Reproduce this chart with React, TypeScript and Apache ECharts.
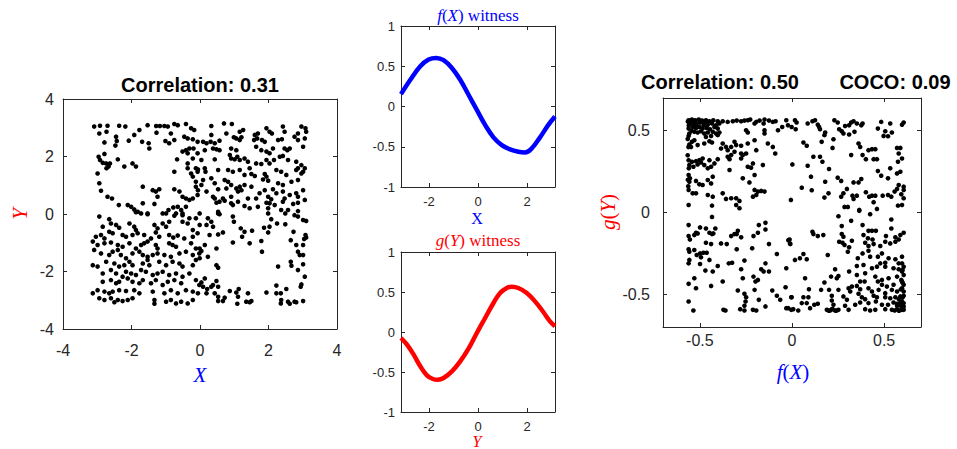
import React, { useEffect, useRef } from "react";
import * as echarts from "echarts";

// ---------- data ----------
const leftTicks = [-4, -2, 0, 2, 4];
const witnessYTicks = [-1, -0.5, 0, 0.5, 1];
const witnessXTicks = [-2, 0, 2];
const rightTicks = [-0.5, 0, 0.5];

const leftTitle = "Correlation: 0.31";
const rightTitle = "Correlation: 0.50";
const cocoTitle = "COCO: 0.09";

// f(X) witness curve (x, f)
const fWitness: [number, number][] = [
  [-3.1416, 0.154], [-2.76, 0.333], [-2.354, 0.5], [-2.015, 0.583], [-1.703, 0.604],
  [-1.404, 0.575], [-1.065, 0.479], [-0.726, 0.333], [-0.387, 0.146], [-0.048, -0.042],
  [0.291, -0.229], [0.631, -0.383], [0.97, -0.479], [1.309, -0.533], [1.648, -0.5625],
  [1.92, -0.571], [2.191, -0.521], [2.531, -0.383], [2.87, -0.229], [3.1416, -0.125],
];

// g(Y) witness curve (y, g)
const gWitness: [number, number][] = [
  [-3.1416, -0.075], [-2.897, -0.158], [-2.626, -0.283], [-2.354, -0.429], [-2.083, -0.542],
  [-1.839, -0.5875], [-1.649, -0.596], [-1.404, -0.575], [-1.065, -0.492], [-0.726, -0.367],
  [-0.387, -0.208], [-0.048, -0.0125], [0.291, 0.175], [0.631, 0.3625], [0.902, 0.4875],
  [1.174, 0.55], [1.377, 0.567], [1.648, 0.55], [1.988, 0.4875], [2.327, 0.383],
  [2.666, 0.25], [2.938, 0.133], [3.1416, 0.071],
];

// left scatter (X, Y)
const leftPoints: [number, number][] = [
  [-3.09,3.04],[-2.92,3.07],[-2.70,3.07],[-2.36,3.07],[-2.18,3.04],[-1.53,3.09],[-1.28,3.06],[-1.17,3.06],[-1.04,3.06],[-0.94,3.04],
  [-0.75,3.13],[-0.65,3.09],[-0.41,3.13],[-0.26,2.98],[-0.17,2.92],[-2.94,2.80],[-2.73,2.86],[-2.45,2.69],[-1.77,2.92],[-1.27,2.83],
  [-0.85,2.80],[-0.46,2.69],[-2.79,2.49],[-2.43,2.54],[-2.08,2.55],[-1.92,2.75],[-1.69,2.51],[-1.50,2.46],[-1.01,2.54],[-0.90,2.46],
  [-0.75,2.57],[-0.36,2.63],[-0.21,2.60],[-0.07,2.51],[-2.47,2.38],[-1.48,2.28],[-0.41,2.22],[-0.31,2.28],[-0.19,2.28],[-0.51,2.17],
  [-2.96,1.99],[-2.79,2.09],[-2.92,1.88],[-2.84,1.78],[-2.74,1.76],[-2.63,1.76],[-2.67,1.65],[-2.73,1.59],[-2.40,1.90],[-1.97,1.76],
  [-1.87,1.65],[-2.21,1.65],[-0.67,1.90],[-0.36,2.11],[-0.21,1.93],[-0.07,2.11],[-0.36,1.76],[-0.36,1.59],[-0.12,1.59],[-0.75,1.47],
  [-0.26,1.41],[-0.07,1.47],[-2.99,1.41],[-2.94,1.07],[-0.21,1.30],[-0.12,1.12],[-2.89,0.81],[-1.67,0.95],[-1.38,0.83],[-1.29,0.78],
  [-1.19,0.86],[-0.75,0.86],[-0.60,0.78],[-0.12,0.95],[-2.70,0.60],[-2.57,0.54],[-1.24,0.60],[-0.51,0.60],[-0.41,0.54],[-0.21,0.54],
  [-0.07,0.66],[-0.31,0.49],[-2.37,0.31],[-2.11,0.31],[-2.01,0.25],[-1.92,0.16],[-1.82,0.08],[-1.67,0.37],[-1.53,0.02],[-1.33,0.35],
  [-1.09,0.02],[-0.92,0.14],[-0.78,0.23],[-0.65,0.25],[-0.55,0.14],[-0.41,0.25],[-0.70,0.02],[-0.51,0.02],
  [0.33,3.06],[0.70,3.15],[0.93,3.13],[0.33,2.75],[0.77,2.80],[0.99,2.67],[1.16,2.86],[1.26,2.92],[1.60,2.75],[1.69,2.80],
  [1.94,2.98],[2.03,2.86],[2.10,2.80],[2.42,3.04],[2.47,2.86],[2.96,3.04],[3.08,2.98],[3.10,2.86],[2.86,2.80],[2.76,2.69],
  [0.09,2.51],[0.19,2.46],[0.31,2.51],[0.43,2.46],[0.57,2.55],[1.06,2.63],[1.16,2.57],[1.21,2.67],[1.58,2.57],[1.67,2.63],
  [1.81,2.57],[1.89,2.51],[2.28,2.57],[2.39,2.60],[2.86,2.57],[3.06,2.63],[0.14,2.22],[0.38,2.28],[0.48,2.25],[0.57,2.22],
  [0.91,2.28],[1.06,2.22],[1.64,2.34],[1.79,2.22],[1.94,2.17],[2.03,2.11],[2.13,2.28],[2.47,2.28],[2.55,2.22],[2.62,2.28],
  [3.01,2.34],[0.04,1.88],[0.43,1.90],[0.87,2.05],[0.91,1.93],[1.01,1.90],[1.09,1.99],[1.16,1.88],[1.30,1.93],[1.40,1.82],
  [1.64,1.76],[1.79,1.74],[1.94,1.88],[2.03,1.76],[2.16,1.88],[2.33,1.99],[2.42,2.02],[2.57,1.88],[2.81,1.82],[2.96,1.70],
  [-0.06,1.55],[0.14,1.59],[0.16,1.47],[0.53,1.53],[0.82,1.53],[0.96,1.47],[1.16,1.53],[1.45,1.59],[1.30,1.36],[1.50,1.39],
  [1.60,1.32],[1.89,1.39],[1.94,1.30],[2.23,1.53],[2.37,1.47],[2.52,1.36],[2.81,1.53],[2.86,1.59],[3.01,1.47],[3.06,1.59],
  [2.96,1.41],[0.09,1.18],[0.33,1.24],[0.43,1.07],[0.72,1.18],[0.82,1.12],[0.91,1.01],[1.16,0.95],[1.30,1.01],[1.50,0.95],
  [1.84,1.20],[1.99,1.16],[2.28,1.07],[2.42,1.01],[2.67,1.12],[2.86,1.18],[0.04,1.01],[-0.06,0.83],[0.19,0.78],[0.53,0.86],
  [0.77,0.89],[1.06,0.89],[1.11,0.78],[1.21,0.83],[1.74,0.72],[1.89,0.83],[2.13,0.86],[2.23,0.72],[2.42,0.78],[2.62,0.66],
  [2.81,0.72],[3.01,0.83],[0.38,0.60],[0.43,0.54],[0.67,0.54],[0.91,0.60],[1.40,0.54],[1.64,0.54],[1.99,0.60],[2.08,0.51],
  [2.47,0.54],[2.86,0.60],[0.48,0.39],[0.57,0.43],[0.72,0.46],[0.91,0.37],[0.96,0.31],[1.11,0.43],[1.94,0.39],[2.03,0.37],
  [2.18,0.31],[2.42,0.43],[2.72,0.35],[2.86,0.39],[3.06,0.49],[0.53,0.08],[1.30,0.28],[1.45,0.20],[1.69,0.25],[1.99,0.20],
  [2.37,0.14],[2.57,0.14],[2.86,0.10],
  [-2.94,-0.09],[-2.65,-0.18],[-1.87,0.06],[-1.72,0.02],[-1.53,-0.01],[-0.99,0.02],[-0.75,-0.06],[-0.51,-0.04],[-0.31,-0.15],[-0.12,-0.15],
  [-2.84,-0.44],[-2.60,-0.33],[-2.45,-0.38],[-2.36,-0.48],[-2.06,-0.33],[-1.92,-0.44],[-1.87,-0.56],[-1.33,-0.38],[-1.24,-0.50],[-1.09,-0.33],
  [-0.99,-0.44],[-0.90,-0.27],[-0.51,-0.27],[-0.36,-0.33],[-0.21,-0.56],[-3.04,-0.79],[-2.89,-0.73],[-2.79,-0.85],[-2.65,-0.62],[-2.55,-0.67],
  [-2.26,-0.73],[-2.16,-0.79],[-1.97,-0.73],[-1.82,-0.67],[-1.63,-0.73],[-1.43,-0.85],[-1.29,-0.64],[-1.19,-0.79],[-0.90,-0.73],[-0.78,-0.82],
  [-0.65,-0.75],[-0.46,-0.85],[-0.21,-0.79],[-0.07,-0.67],[-3.13,-0.96],[-2.99,-1.08],[-2.79,-1.02],[-2.60,-0.99],[-2.40,-1.08],[-2.26,-1.14],
  [-2.06,-1.02],[-1.87,-1.20],[-1.72,-1.08],[-1.63,-1.02],[-1.53,-0.96],[-1.29,-1.08],[-1.24,-1.20],[-0.90,-1.02],[-0.80,-1.08],[-0.70,-1.14],
  [-0.26,-1.02],[-0.12,-1.20],[-3.09,-1.25],[-2.89,-1.37],[-2.65,-1.43],[-2.55,-1.31],[-2.40,-1.25],[-2.31,-1.43],[-2.16,-1.54],[-1.97,-1.37],
  [-1.77,-1.31],[-1.67,-1.43],[-1.53,-1.49],[-1.38,-1.43],[-1.24,-1.37],[-1.04,-1.43],[-0.85,-1.49],[-0.60,-1.37],[-0.41,-1.31],[-0.21,-1.43],
  [-0.02,-1.37],[-3.13,-1.78],[-2.99,-1.83],[-2.74,-1.66],[-2.50,-1.72],[-2.36,-1.83],[-2.21,-1.78],[-2.06,-1.66],[-1.97,-1.78],[-1.67,-1.72],
  [-1.53,-1.60],[-1.48,-1.78],[-1.19,-1.66],[-0.99,-1.78],[-0.80,-1.66],[-0.60,-1.72],[-0.51,-1.83],[-0.21,-1.78],[-0.12,-1.60],[-2.84,-2.07],
  [-2.60,-1.95],[-2.45,-2.07],[-2.26,-2.18],[-2.16,-2.01],[-2.01,-2.07],[-1.87,-2.12],[-1.72,-1.95],[-1.58,-2.01],[-1.38,-2.12],[-1.24,-2.07],
  [-1.09,-2.01],[-0.90,-2.12],[-0.70,-2.07],[-0.51,-2.18],[-0.31,-2.07],[-2.84,-2.36],[-2.60,-2.30],[-2.45,-2.41],[-2.36,-2.36],[-2.11,-2.24],
  [-1.97,-2.36],[-1.77,-2.41],[-1.67,-2.30],[-1.43,-2.41],[-1.29,-2.30],[-1.09,-2.47],[-0.94,-2.36],[-0.75,-2.30],[-0.55,-2.41],[-0.12,-2.30],
  [-0.02,-2.47],[-3.13,-2.76],[-2.99,-2.65],[-2.79,-2.70],[-2.65,-2.76],[-2.55,-2.70],[-2.36,-2.65],[-2.16,-2.68],[-1.92,-2.65],[-1.77,-2.76],
  [-1.38,-2.70],[-1.04,-2.76],[-0.85,-2.65],[-0.65,-2.76],[-0.41,-2.65],[-0.21,-2.70],[-2.94,-2.93],[-2.79,-2.99],[-2.60,-2.93],[-2.50,-3.07],
  [-2.40,-2.99],[-2.26,-3.03],[-2.11,-2.99],[-1.97,-2.93],[-1.33,-2.99],[-1.33,-3.12],[-0.99,-3.05],[-0.85,-2.99],[-0.70,-3.11],[-0.55,-3.05],
  [-0.36,-3.11],[-0.21,-2.99],
  [-0.01,0.02],[0.23,-0.15],[0.33,-0.27],[0.38,-0.44],[0.53,0.02],[0.57,-0.01],[-0.01,-0.38],[0.19,-0.38],[0.28,-0.73],[0.53,-0.71],
  [0.67,-0.64],[0.96,-0.09],[0.99,-0.27],[1.19,-0.50],[1.23,-0.79],[1.30,-0.62],[1.52,-0.58],[1.45,-1.02],[0.96,-0.99],[1.79,-0.94],
  [1.81,-1.31],[1.87,-0.48],[2.03,-0.44],[1.99,-0.64],[2.08,-0.18],[1.99,0.02],[2.25,-0.33],[2.49,-0.36],[2.49,0.02],[2.76,-0.04],
  [2.86,-0.09],[3.01,-0.21],[3.10,-0.24],[2.65,-0.91],[2.73,-0.62],[2.81,-1.08],[3.04,-0.87],[3.08,-0.73],[3.10,-0.82],[3.01,-1.08],
  [2.86,-1.31],[2.91,-1.43],[3.01,-1.43],[2.28,-1.83],[2.65,-1.66],[2.67,-1.80],[2.86,-1.95],[3.01,-1.75],[3.06,-2.18],[-0.01,-1.20],
  [0.14,-1.08],[0.04,-1.29],[0.23,-1.49],[0.48,-1.20],[-0.01,-1.54],[0.48,-1.78],[0.53,-1.87],[0.14,-2.24],[0.04,-2.38],[0.09,-2.53],
  [0.21,-2.61],[0.33,-2.53],[0.38,-2.47],[0.48,-2.33],[0.53,-2.53],[-0.06,-2.76],[0.19,-2.76],[0.43,-2.76],[0.53,-2.88],[0.72,-2.91],
  [0.67,-3.03],[0.53,-3.03],[0.87,-2.68],[1.06,-2.73],[1.13,-2.61],[1.11,-2.88],[1.40,-2.76],[1.35,-3.05],[1.45,-3.07],[1.50,-3.03],
  [1.09,-3.12],[1.94,-2.73],[2.23,-2.49],[2.23,-2.76],[2.36,-2.76],[2.52,-2.61],[2.96,-2.45],[2.37,-2.99],[2.36,-3.11],[2.57,-3.05],
  [2.62,-3.12],[2.76,-3.05],[2.81,-3.07],[3.01,-3.03],[2.94,-2.53],
];

// right scatter (f(X), g(Y))
const rightPoints: [number, number][] = [
  [-0.561,0.564],[-0.543,0.568],[-0.525,0.564],[-0.506,0.568],[-0.488,0.562],[-0.467,0.564],[-0.448,0.558],[-0.427,0.564],[-0.403,0.558],[-0.376,0.558],
  [-0.349,0.554],[-0.321,0.558],[-0.300,0.562],[-0.276,0.558],[-0.258,0.562],[-0.240,0.564],[-0.227,0.568],[-0.194,0.554],[-0.176,0.562],[-0.149,0.568],
  [-0.125,0.562],[-0.104,0.554],[-0.089,0.558],[-0.031,0.564],[-0.557,0.544],[-0.535,0.537],[-0.517,0.544],[-0.499,0.550],[-0.476,0.544],[-0.457,0.537],
  [-0.434,0.544],[-0.412,0.533],[-0.394,0.544],[-0.203,0.544],[-0.154,0.544],[-0.053,0.523],[-0.022,0.533],[-0.249,0.503],[-0.149,0.503],[-0.149,0.483],
  [-0.076,0.503],[-0.561,0.513],[-0.539,0.523],[-0.521,0.517],[-0.503,0.523],[-0.485,0.513],[-0.463,0.517],[-0.445,0.509],[-0.421,0.523],[-0.403,0.513],
  [-0.557,0.483],[-0.530,0.493],[-0.512,0.489],[-0.494,0.497],[-0.476,0.483],[-0.457,0.489],[-0.430,0.493],[-0.412,0.483],[-0.394,0.489],[-0.561,0.468],
  [-0.467,0.462],[-0.439,0.468],[-0.403,0.473],[-0.240,0.489],[-0.543,0.432],[-0.557,0.416],[-0.530,0.442],[-0.512,0.412],[-0.548,0.401],[-0.448,0.436],
  [-0.434,0.428],[-0.476,0.422],[-0.376,0.422],[-0.358,0.401],[-0.385,0.391],[-0.349,0.381],[-0.330,0.401],[-0.312,0.432],[-0.303,0.412],[-0.276,0.408],
  [-0.240,0.422],[-0.203,0.442],[-0.194,0.381],[-0.276,0.361],[-0.249,0.361],[-0.131,0.422],[-0.104,0.401],[-0.091,0.361],[-0.312,0.371],[-0.561,0.320],
  [-0.543,0.310],[-0.521,0.314],[-0.503,0.320],[-0.485,0.330],[-0.557,0.290],[-0.535,0.280],[-0.512,0.294],[-0.494,0.306],[-0.476,0.290],[-0.457,0.270],
  [-0.439,0.280],[-0.421,0.300],[-0.403,0.326],[-0.448,0.320],[-0.349,0.341],[-0.339,0.326],[-0.330,0.351],[-0.339,0.260],[-0.276,0.330],[-0.267,0.351],
  [-0.240,0.280],[-0.222,0.274],[-0.212,0.300],[-0.158,0.290],[-0.561,0.229],[-0.554,0.209],[-0.557,0.188],[-0.521,0.193],[-0.503,0.172],[-0.485,0.168],
  [-0.457,0.199],[-0.439,0.178],[-0.430,0.219],[-0.267,0.209],[-0.231,0.184],[-0.203,0.229],[-0.561,0.138],[-0.539,0.117],[-0.521,0.117],[-0.457,0.107],
  [-0.430,0.097],[-0.376,0.117],[-0.358,0.083],[-0.330,0.087],[-0.303,0.087],[-0.285,0.071],[-0.212,0.097],[-0.194,0.107],[-0.185,0.128],[-0.167,0.132],
  [-0.149,0.128],[-0.203,0.138],[-0.561,0.046],[-0.434,0.042],[-0.303,0.046],[-0.285,0.026],
  [-0.565,0.556],[-0.550,0.552],[-0.532,0.556],[-0.560,0.532],[-0.545,0.500],[-0.522,0.531],[-0.500,0.552],[-0.480,0.532],[-0.462,0.553],[-0.566,0.450],
  [-0.562,0.400],[-0.566,0.350],[-0.560,0.270],[-0.565,0.200],[-0.563,0.160],
  [0.016,0.564],[0.025,0.550],[-0.002,0.523],[0.020,0.509],[0.085,0.544],[0.111,0.558],[0.125,0.564],[0.140,0.537],[0.147,0.523],[0.152,0.509],
  [0.180,0.489],[0.176,0.473],[0.230,0.564],[0.248,0.550],[0.256,0.509],[0.270,0.497],[0.279,0.483],[0.288,0.529],[0.310,0.533],[0.321,0.550],
  [0.334,0.558],[0.352,0.544],[0.383,0.544],[0.376,0.533],[0.310,0.477],[0.339,0.493],[0.466,0.513],[0.484,0.554],[0.506,0.497],[0.521,0.466],
  [0.497,0.468],[0.542,0.489],[0.533,0.544],[0.597,0.537],[0.606,0.550],[0.225,0.448],[0.062,0.428],[0.080,0.408],[0.161,0.432],[0.220,0.395],
  [0.361,0.422],[0.370,0.401],[0.321,0.351],[0.383,0.351],[0.415,0.381],[0.434,0.387],[0.452,0.387],[0.401,0.326],[0.443,0.326],[0.461,0.326],
  [0.570,0.395],[0.588,0.395],[0.579,0.361],[0.597,0.330],[0.575,0.310],[0.002,0.294],[0.085,0.286],[0.116,0.341],[0.152,0.341],[0.165,0.310],
  [0.201,0.266],[0.466,0.253],[0.484,0.225],[0.521,0.209],[0.533,0.270],[0.570,0.239],[0.588,0.249],[0.103,0.219],[0.180,0.188],[0.248,0.213],
  [0.267,0.193],[0.334,0.184],[0.361,0.184],[0.376,0.205],[0.579,0.168],[0.606,0.158],[0.606,0.138],[0.053,0.152],[0.107,0.136],[0.176,0.091],
  [0.198,0.117],[0.267,0.097],[0.279,0.117],[0.298,0.144],[0.328,0.103],[0.334,0.083],[0.352,0.103],[0.401,0.124],[0.419,0.097],[0.434,0.103],
  [0.452,0.103],[0.492,0.103],[0.521,0.107],[0.539,0.097],[0.557,0.128],[0.570,0.144],[0.593,0.111],[0.606,0.087],[0.575,0.042],[0.597,0.046],
  [-0.006,0.077],[0.285,0.034],[0.303,0.034],[0.365,0.016],[0.443,0.063],[0.461,0.022],
  [-0.434,-0.027],[-0.561,-0.077],[-0.530,-0.138],[-0.521,-0.124],[-0.512,-0.128],[-0.499,-0.091],[-0.467,-0.098],[-0.448,-0.124],[-0.434,-0.132],[-0.427,-0.128],
  [-0.416,-0.098],[-0.561,-0.144],[-0.554,-0.165],[-0.467,-0.185],[-0.439,-0.193],[-0.385,-0.189],[-0.354,-0.193],[-0.330,-0.144],[-0.312,-0.132],[-0.294,-0.112],
  [-0.300,-0.132],[-0.276,-0.152],[-0.209,-0.144],[-0.185,-0.124],[-0.180,-0.077],[-0.144,-0.063],[-0.144,-0.104],[-0.125,-0.193],[-0.013,-0.165],[-0.009,-0.193],
  [-0.561,-0.225],[-0.557,-0.240],[-0.530,-0.229],[-0.517,-0.260],[-0.499,-0.250],[-0.481,-0.246],[-0.463,-0.246],[-0.494,-0.274],[-0.448,-0.290],[-0.403,-0.327],
  [-0.343,-0.311],[-0.325,-0.307],[-0.300,-0.225],[-0.258,-0.294],[-0.216,-0.219],[-0.144,-0.311],[-0.557,-0.290],[-0.561,-0.311],[-0.499,-0.315],[-0.470,-0.355],
  [-0.430,-0.361],[-0.530,-0.402],[-0.561,-0.436],[-0.521,-0.463],[-0.439,-0.449],[-0.376,-0.422],[-0.276,-0.347],[-0.267,-0.402],[-0.209,-0.392],[-0.198,-0.422],
  [-0.185,-0.412],[-0.167,-0.347],[-0.154,-0.361],[-0.125,-0.361],[-0.082,-0.254],[-0.031,-0.341],[-0.294,-0.477],[-0.258,-0.497],[-0.249,-0.518],[-0.252,-0.544],
  [-0.258,-0.570],[-0.203,-0.473],[-0.180,-0.534],[-0.107,-0.477],[-0.082,-0.509],[-0.064,-0.534],[-0.035,-0.457],[-0.004,-0.518],[-0.561,-0.544],[-0.535,-0.599],
  [-0.372,-0.595],[-0.361,-0.599],[-0.281,-0.591],[-0.258,-0.599],[-0.212,-0.595],[-0.194,-0.599],[-0.144,-0.574],[-0.031,-0.585],[-0.004,-0.595],
  [0.252,-0.023],[0.365,0.010],[0.424,-0.010],[0.321,-0.051],[0.383,-0.077],[0.270,-0.083],[0.539,-0.043],[0.539,-0.098],[0.111,-0.118],[0.116,-0.132],
  [0.140,-0.144],[0.170,-0.138],[0.270,-0.132],[0.279,-0.148],[0.415,-0.112],[0.434,-0.112],[0.455,-0.112],[0.388,-0.138],[0.412,-0.158],[0.437,-0.165],
  [0.510,-0.144],[0.561,-0.152],[0.588,-0.138],[0.606,-0.124],[-0.020,-0.169],[-0.011,-0.189],[0.256,-0.179],[0.274,-0.185],[0.285,-0.199],[0.325,-0.173],
  [0.310,-0.213],[0.303,-0.240],[0.397,-0.185],[0.415,-0.205],[0.443,-0.193],[0.479,-0.205],[0.506,-0.179],[0.533,-0.189],[0.561,-0.179],[0.579,-0.165],
  [0.062,-0.254],[0.016,-0.290],[0.043,-0.280],[0.080,-0.286],[0.194,-0.260],[0.357,-0.280],[0.383,-0.250],[0.415,-0.234],[0.424,-0.270],[0.466,-0.270],
  [0.488,-0.250],[0.506,-0.307],[0.524,-0.280],[0.479,-0.311],[0.561,-0.286],[0.579,-0.311],[0.597,-0.270],[0.352,-0.327],[0.388,-0.321],[0.434,-0.341],
  [0.461,-0.331],[0.506,-0.331],[0.551,-0.341],[0.579,-0.347],[0.597,-0.361],[0.234,-0.347],[0.310,-0.361],[0.352,-0.382],[0.397,-0.372],[0.452,-0.392],
  [0.488,-0.412],[0.524,-0.402],[0.570,-0.392],[0.606,-0.382],[0.071,-0.402],[0.176,-0.428],[0.212,-0.392],[0.243,-0.402],[0.252,-0.388],[0.325,-0.453],
  [0.352,-0.449],[0.370,-0.422],[0.394,-0.422],[0.415,-0.463],[0.466,-0.422],[0.488,-0.442],[0.515,-0.453],[0.551,-0.442],[0.597,-0.422],[0.606,-0.442],
  [0.092,-0.469],[0.158,-0.473],[0.201,-0.473],[0.252,-0.473],[0.307,-0.463],[0.316,-0.483],[0.361,-0.497],[0.370,-0.469],[0.434,-0.483],[0.470,-0.473],
  [0.506,-0.493],[0.542,-0.473],[0.570,-0.483],[0.597,-0.463],[-0.002,-0.518],[0.062,-0.518],[0.089,-0.518],[0.216,-0.509],[0.279,-0.513],[0.298,-0.534],
  [0.379,-0.518],[0.397,-0.530],[0.443,-0.509],[0.461,-0.518],[0.506,-0.518],[0.533,-0.524],[0.561,-0.518],[0.588,-0.513],[0.606,-0.509],[0.053,-0.554],
  [0.080,-0.554],[0.121,-0.564],[0.140,-0.558],[0.216,-0.538],[0.225,-0.564],[0.288,-0.570],[0.343,-0.564],[0.370,-0.550],[0.415,-0.554],[0.455,-0.544],
  [0.488,-0.564],[0.521,-0.564],[0.551,-0.550],[0.570,-0.558],[0.588,-0.550],[0.606,-0.554],[-0.020,-0.585],[0.007,-0.591],[0.034,-0.599],[0.098,-0.585],
  [0.189,-0.595],[0.207,-0.599],[0.216,-0.591],[0.234,-0.599],[0.252,-0.595],[0.307,-0.595],[0.397,-0.591],[0.424,-0.599],[0.452,-0.595],[0.506,-0.591],
  [0.542,-0.595],[0.557,-0.599],[0.570,-0.591],[0.582,-0.599],[0.597,-0.595],[0.606,-0.595],[0.606,-0.574],[0.597,-0.544],[0.606,-0.483],[0.593,-0.412],
  [0.600,-0.351],[0.606,-0.331],[0.597,-0.311],
  [0.590,-0.570],[0.600,-0.580],[0.580,-0.600],[0.600,-0.520],[0.590,-0.470],[0.600,-0.430],[0.580,-0.530],[0.570,-0.570],[0.200,-0.600],[0.220,-0.590],
  [0.240,-0.600],
];

// ---------- styling ----------
const AX = "#262626";
const SANS = '"Liberation Sans", Arial, Helvetica, sans-serif';
const SERIF = '"Liberation Serif", "Times New Roman", serif';
const BLUE = "#0000ff";
const RED = "#ff0000";

type Box = { left: number; top: number; width: number; height: number };

const boxes: Box[] = [
  { left: 63, top: 99, width: 274, height: 230 },
  { left: 401, top: 26, width: 154, height: 161 },
  { left: 401, top: 252, width: 154, height: 160 },
  { left: 663, top: 98, width: 258, height: 229 },
];

function xAxes(g: number, min: number, max: number, ticks: number[], fs: number, margin: number) {
  const base = {
    type: "value" as const,
    gridIndex: g,
    min,
    max,
    splitLine: { show: false },
    axisLine: { show: true, onZero: false, lineStyle: { color: AX, width: 1 } },
    axisTick: { show: true, inside: true, length: 4, customValues: ticks, lineStyle: { color: AX, width: 1 } },
  };
  return [
    {
      ...base,
      position: "bottom",
      axisLabel: {
        show: true, customValues: ticks, color: AX, fontSize: fs, fontFamily: SANS, margin,
        showMinLabel: true, showMaxLabel: true,
      },
    },
    { ...base, position: "top", axisLabel: { show: false } },
  ];
}

function yAxes(g: number, min: number, max: number, ticks: number[], fs: number, margin: number) {
  const base = {
    type: "value" as const,
    gridIndex: g,
    min,
    max,
    splitLine: { show: false },
    axisLine: { show: true, onZero: false, lineStyle: { color: AX, width: 1 } },
    axisTick: { show: true, inside: true, length: 4, customValues: ticks, lineStyle: { color: AX, width: 1 } },
  };
  return [
    {
      ...base,
      position: "left",
      axisLabel: {
        show: true, customValues: ticks, color: AX, fontSize: fs, fontFamily: SANS, margin,
        showMinLabel: true, showMaxLabel: true,
      },
    },
    { ...base, position: "right", axisLabel: { show: false } },
  ];
}

function txt(text: string, x: number, y: number, fill: string, font: string, rotation = 0, rich?: any) {
  return {
    type: "text",
    x,
    y,
    rotation,
    silent: true,
    style: {
      text,
      fill,
      font,
      align: "center",
      verticalAlign: "middle",
      textAlign: "center",
      textVerticalAlign: "middle",
      rich,
    },
  };
}

function richStyles(color: string, size: number) {
  return {
    i: { fontStyle: "italic", fontSize: size, fontFamily: SERIF, fill: color, color },
    n: { fontStyle: "normal", fontSize: size, fontFamily: SERIF, fill: color, color },
  };
}

export default function App() {
  const ref = useRef<HTMLDivElement>(null);

  useEffect(() => {
    if (!ref.current) return;
    const chart = echarts.init(ref.current, undefined, { renderer: "svg" });
    const PI = Math.PI;

    const option: any = {
      animation: false,
      backgroundColor: "#ffffff",
      grid: boxes.map((b) => ({ ...b, containLabel: false, show: false })),
      xAxis: [
        ...xAxes(0, -4, 4, leftTicks, 16, 13),
        ...xAxes(1, -PI, PI, witnessXTicks, 13, 8),
        ...xAxes(2, -PI, PI, witnessXTicks, 13, 8),
        ...xAxes(3, -0.7, 0.7, rightTicks, 16, 5),
      ],
      yAxis: [
        ...yAxes(0, -4, 4, leftTicks, 16, 9),
        ...yAxes(1, -1, 1, witnessYTicks, 13, 6),
        ...yAxes(2, -1, 1, witnessYTicks, 13, 6),
        ...yAxes(3, -0.7, 0.7, rightTicks, 16, 13),
      ],
      series: [
        {
          type: "scatter", xAxisIndex: 0, yAxisIndex: 0, data: leftPoints,
          symbolSize: 4.6, itemStyle: { color: "#000000", opacity: 1 }, silent: true,
        },
        {
          type: "line", xAxisIndex: 2, yAxisIndex: 2, data: fWitness, smooth: 0.4,
          showSymbol: false, symbol: "none", lineStyle: { color: BLUE, width: 4.5 }, silent: true,
        },
        {
          type: "line", xAxisIndex: 4, yAxisIndex: 4, data: gWitness, smooth: 0.4,
          showSymbol: false, symbol: "none", lineStyle: { color: RED, width: 4.5 }, silent: true,
        },
        {
          type: "scatter", xAxisIndex: 6, yAxisIndex: 6, data: rightPoints,
          symbolSize: 4.6, itemStyle: { color: "#000000", opacity: 1 }, silent: true,
        },
      ],
      graphic: [
        txt(leftTitle, 200, 85, "#000000", `bold 20px ${SANS}`),
        txt(rightTitle, 720, 82, "#000000", `bold 20px ${SANS}`),
        txt(cocoTitle, 895, 82, "#000000", `bold 20px ${SANS}`),
        txt("X", 200, 375, BLUE, `italic 21px ${SERIF}`),
        txt("Y", 20, 214, RED, `italic 21px ${SERIF}`, PI / 2),
        txt("{i|f}{n|(}{i|X}{n|)}", 793, 372, BLUE, `italic 21px ${SERIF}`, 0, richStyles(BLUE, 21)),
        txt("{i|g}{n|(}{i|Y}{n|)}", 608, 212, RED, `italic 21px ${SERIF}`, PI / 2, richStyles(RED, 21)),
        txt("{i|f}{n|(}{i|X}{n|) witness}", 478, 15, BLUE, `17px ${SERIF}`, 0, richStyles(BLUE, 17)),
        txt("{i|g}{n|(}{i|Y}{n|) witness}", 478, 240, RED, `17px ${SERIF}`, 0, richStyles(RED, 17)),
        txt("X", 477, 218, BLUE, `16px ${SERIF}`),
        txt("Y", 477, 441, RED, `italic 16px ${SERIF}`),
      ],
    };

    chart.setOption(option);
    return () => chart.dispose();
  }, []);

  return (
    <div
      ref={ref}
      style={{ position: "absolute", left: 0, top: 0, width: 957, height: 449, background: "#ffffff" }}
    />
  );
}
